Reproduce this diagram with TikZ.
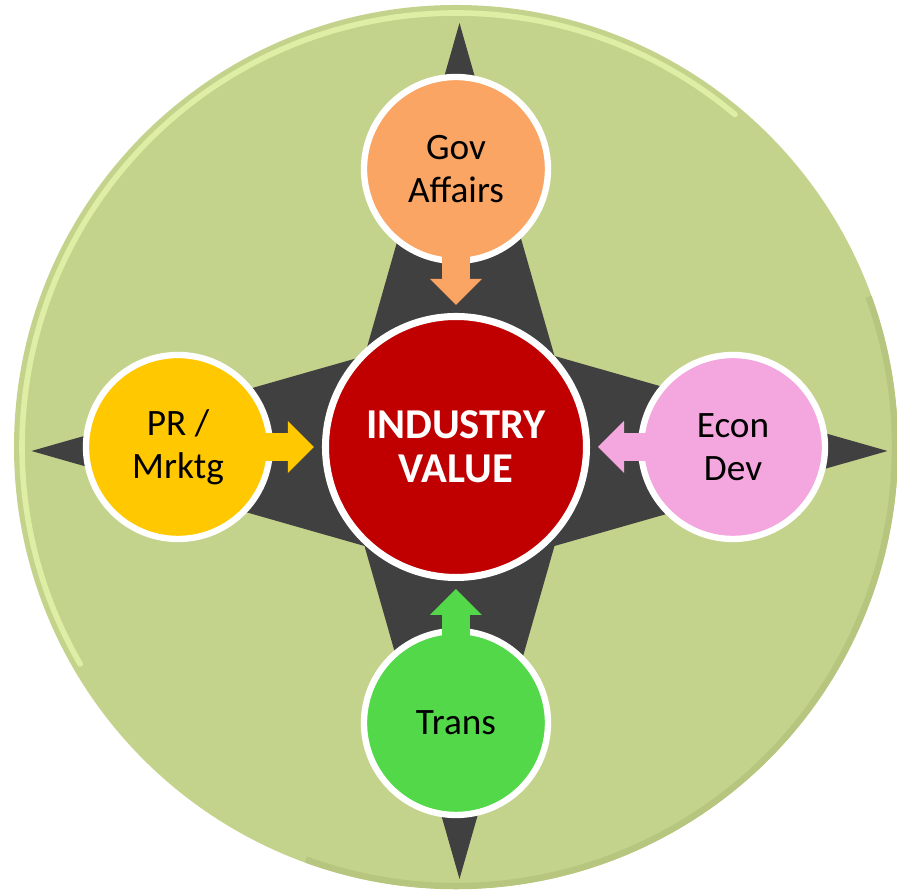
\documentclass[tikz,border=0pt]{standalone}
\usepackage{fontspec}
\setmainfont{Carlito}
\usetikzlibrary{arrows.meta}
\definecolor{bg}{RGB}{196, 211, 140}
\definecolor{rim}{RGB}{222, 238, 165}
\definecolor{shd}{RGB}{182, 198, 126}
\definecolor{star}{RGB}{64, 64, 64}
\definecolor{valc}{RGB}{192, 0, 0}
\definecolor{govc}{RGB}{250, 165, 100}
\definecolor{mktc}{RGB}{255, 200, 0}
\definecolor{econc}{RGB}{244, 166, 222}
\definecolor{transc}{RGB}{82, 216, 72}

\begin{document}
\begin{tikzpicture}[
    sat/.style={circle, draw=white, line width=1.8pt, minimum size=1.84cm, inner sep=0pt,
      align=center, font=\fontsize{10.6}{12.2}\selectfont},
    feed/.style={line width=8pt, -{Triangle[width=0.52cm, length=0.26cm, line width=0pt]},
      shorten <=-0.1cm, shorten >=0.08cm}]
      \useasboundingbox (-4.56, -4.49) rectangle (4.41, 4.47);
      \fill[color=bg] (0, 0) circle (4.42);
      \draw[color=shd, line width=1.8pt] (-110:4.39) arc[start angle=-110, end angle=20, radius=4.39];
      \draw[color=rim, line width=1.6pt, line cap=round] (50:4.34) arc[start angle=50, end angle=210, radius=4.34];
      \fill[color=star] (0.035, 4.24)--(0.985, 0.91)--(4.315, -0.04)--(0.985, -0.99)--(0.035, -4.32)
        --(-0.915, -0.99)--(-4.245, -0.04)--(-0.915, 0.91)--cycle;
      \node[circle, fill=valc, draw=white, line width=2pt, minimum size=2.61cm, text=white,
        align=center, font=\fontsize{12.1}{12.4}\selectfont\bfseries] (val) at (0, 0) {INDUSTRY\\VALUE};
      \node[sat, fill=govc] (gov) at (0, 2.78) {Gov\\Affairs};
      \node[sat, fill=mktc] (mkt) at (-2.78, 0) {PR /\\Mrktg};
      \node[sat, fill=econc] (econ) at (2.77, 0) {Econ\\Dev};
      \node[sat, fill=transc] (trans) at (0, -2.76) {Trans};
      \draw[feed, color=govc] (gov)--(val);
      \draw[feed, color=mktc] (mkt)--(val);
      \draw[feed, color=econc] (econ)--(val);
      \draw[feed, color=transc] (trans)--(val);
    \end{tikzpicture}
\end{document}
